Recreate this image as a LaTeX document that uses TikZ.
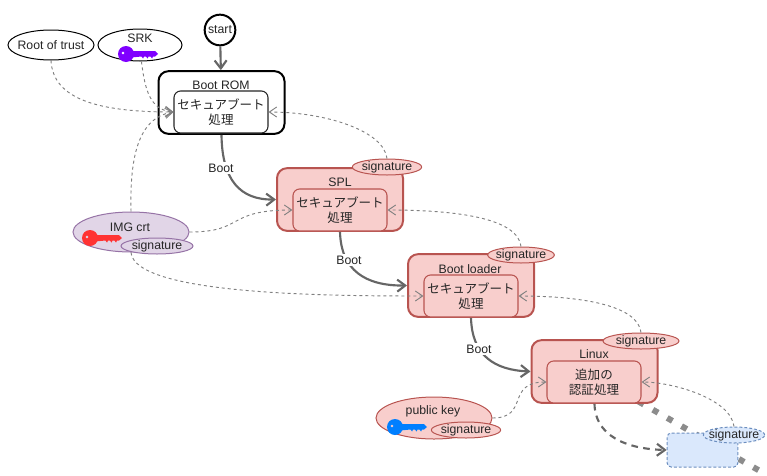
\documentclass[tikz,border=0pt]{standalone}
\usepackage{fontspec}
\setmainfont{Liberation Sans}
\newfontfamily\jpfont{Noto Sans CJK JP}
\usetikzlibrary{shapes.geometric,arrows.meta}
\definecolor{redfill}{HTML}{F8CECC}
\definecolor{redline}{HTML}{B85450}
\definecolor{purplefill}{HTML}{E1D5E7}
\definecolor{purpleline}{HTML}{9673A6}
\definecolor{bluefill}{HTML}{DAE8FC}
\definecolor{blueline}{HTML}{6C8EBF}
\definecolor{flowgray}{HTML}{666666}
\definecolor{srkkey}{HTML}{7F00FF}
\definecolor{imgkey}{HTML}{FF3333}
\definecolor{pubkey}{HTML}{007FFF}
\tikzset{
	every node/.style={font=\fontsize{9.2}{10.5}\selectfont,text=black!85,inner sep=0pt},
	stagebox/.style={draw=redline,fill=redfill,line width=1.5pt,rounded corners=7.5pt,minimum width=94.5pt,minimum height=47pt},
	innerbox/.style={draw=redline,fill=redfill,line width=.8pt,rounded corners=5pt,minimum width=70.5pt,minimum height=31.5pt,align=center,font=\jpfont\fontsize{9.4}{11.6}\selectfont},
	oval/.style={draw,ellipse,line width=.75pt},
	sigoval/.style={oval,draw=redline,fill=redfill,minimum width=52pt,minimum height=12pt,label={center:signature}},
	bootflow/.style={draw=flowgray,line width=1.6pt,-{Straight Barb[length=6pt,width=9pt]}},
	trustflow/.style={draw=gray,line width=.7pt,dash pattern=on 2.25pt off 2.25pt,-{Straight Barb[length=5.5pt,width=7.5pt]}},
	bootlabel/.style={fill=white,inner sep=1pt},
	keyicon/.pic={
		\fill[even odd rule] (0,0) circle (8) (-3,-1) circle (1.7);
		\fill (5,-3) -- (29,-3) -- (32,0) -- (29,2.5) -- (27,2.5) -- (26,4.5) -- (24.5,2.5) -- (22.5,2.5) -- (21.5,4.5) -- (20,2.5) -- (18,2.5) -- (17,4.5) -- (15.5,2.5) -- (5,3.5) -- cycle;
	}
}
\begin{document}
\begin{tikzpicture}[x=.75pt,y=-.75pt]
	\useasboundingbox (0,0) rectangle (767,475);
	% wide grey line behind the boxes
	\coordinate (crossA) at (638.5,401.5);
	\coordinate (crossB) at (760,471);
	\draw [black!45,line width=4.5pt,dash pattern=on 4.5pt off 7.9pt] (crossA)--(crossB);

	\node [draw,circle,line width=1.5pt,minimum size=23pt] (start) at (220,30) {};
	\node (startText) at (220,30) {start};
	\node [oval,minimum width=64.5pt,minimum height=22.5pt,label={center:Root of trust}] (rootTrust) at (51,45) {};
	\node [oval,minimum width=63pt,minimum height=24pt] (srk) at (140,45) {};
	\node (srkText) at (140,38.5) {SRK};
	\pic [srkkey] at (126,54) {keyicon};

	\node [stagebox,draw=black,fill=white] (bootRom) at (221.5,102.5) {};
	\node (bootRomText) at (221,85) {Boot ROM};
	\node [innerbox,draw=black!85,fill=white] (bootRomInner) at (221,112) {セキュアブート\\処理};

	\node [stagebox] (spl) at (340,199.5) {};
	\node (splText) at (340,182) {SPL};
	\node [innerbox] (splInner) at (340,210) {セキュアブート\\処理};
	\node [sigoval] (splSig) at (387,167) {};

	\node [stagebox] (loader) at (471,285.5) {};
	\node (loaderText) at (470,269) {Boot loader};
	\node [innerbox] (loaderInner) at (471,296) {セキュアブート\\処理};
	\node [sigoval,minimum width=50pt] (loaderSig) at (521,255) {};

	\node [stagebox] (linux) at (594.5,371.5) {};
	\node (linuxText) at (594,354) {Linux};
	\node [innerbox] (linuxInner) at (594,382) {追加の\\認証処理};
	\node [sigoval,minimum width=57pt] (linuxSig) at (641,341) {};

	\node [oval,draw=purpleline,fill=purplefill,minimum width=87pt,minimum height=30pt] (imgCrt) at (131,232) {};
	\node (imgCrtText) at (130,227) {IMG crt};
	\pic [imgkey] at (90,238) {keyicon};
	\node [sigoval,draw=purpleline,fill=purplefill,minimum width=54pt] (imgSig) at (157,246) {};

	\node [oval,draw=redline,fill=redfill,minimum width=87pt,minimum height=31.5pt] (pubKey) at (434,418) {};
	\node (pubKeyText) at (433,411) {public key};
	\pic [pubkey] at (395,427) {keyicon};
	\node [sigoval] (pubSig) at (466,430) {};

	\node [draw=blueline,fill=bluefill,dash pattern=on 2.2pt off 1.5pt,line width=.75pt,rounded corners=3pt,minimum width=53pt,minimum height=25.5pt] (nextBox) at (702.5,450) {};
	\node [sigoval,draw=blueline,fill=bluefill,dash pattern=on 2.2pt off 1.5pt,minimum width=46pt] (nextSig) at (734,435) {};

	% boot order
	\draw [bootflow] (start)--(bootRom);
	\draw [bootflow] (bootRom.south) .. controls (222,180) and (240,200) .. (spl.west);
	\draw [bootflow] (spl.south) .. controls (341,270) and (365,286) .. (loader.west);
	\draw [bootflow] (loader.south) .. controls (472,356) and (495,370) .. (linux.west);
	\draw [bootflow,dash pattern=on 5pt off 4pt] (linux.south) .. controls (595,435) and (625,449) .. (nextBox.west);
	\node [bootlabel] (bootA) at (221,168) {Boot};
	\node [bootlabel] (bootB) at (349,260) {Boot};
	\node [bootlabel] (bootC) at (479,349) {Boot};

	% verification
	\draw [trustflow] (rootTrust.south) .. controls (53,100) and (100,112) .. (bootRomInner.west);
	\draw [trustflow] (srk.275) .. controls (145,90) and (150,110) .. (bootRomInner.west);
	\draw [trustflow] (imgCrt.north) .. controls (130,165) and (135,118) .. (bootRomInner.west);
	\draw [trustflow] (splSig.north) .. controls (384,131) and (326,112) .. (bootRomInner.east);
	\draw [trustflow] (loaderSig.north) .. controls (518,219) and (460,210) .. (splInner.east);
	\draw [trustflow] (linuxSig.north) .. controls (638,305) and (580,296) .. (loaderInner.east);
	\draw [trustflow] (nextSig.north) .. controls (731,399) and (673,382) .. (linuxInner.east);
	\draw [trustflow] (imgCrt.east) .. controls (245,232) and (225,210) .. (splInner.west);
	\draw [trustflow] (imgCrt.south) .. controls (135,295) and (330,296) .. (loaderInner.west);
	\draw [trustflow] (pubKey.east) .. controls (530,418) and (505,382) .. (linuxInner.west);
\end{tikzpicture}
\end{document}
